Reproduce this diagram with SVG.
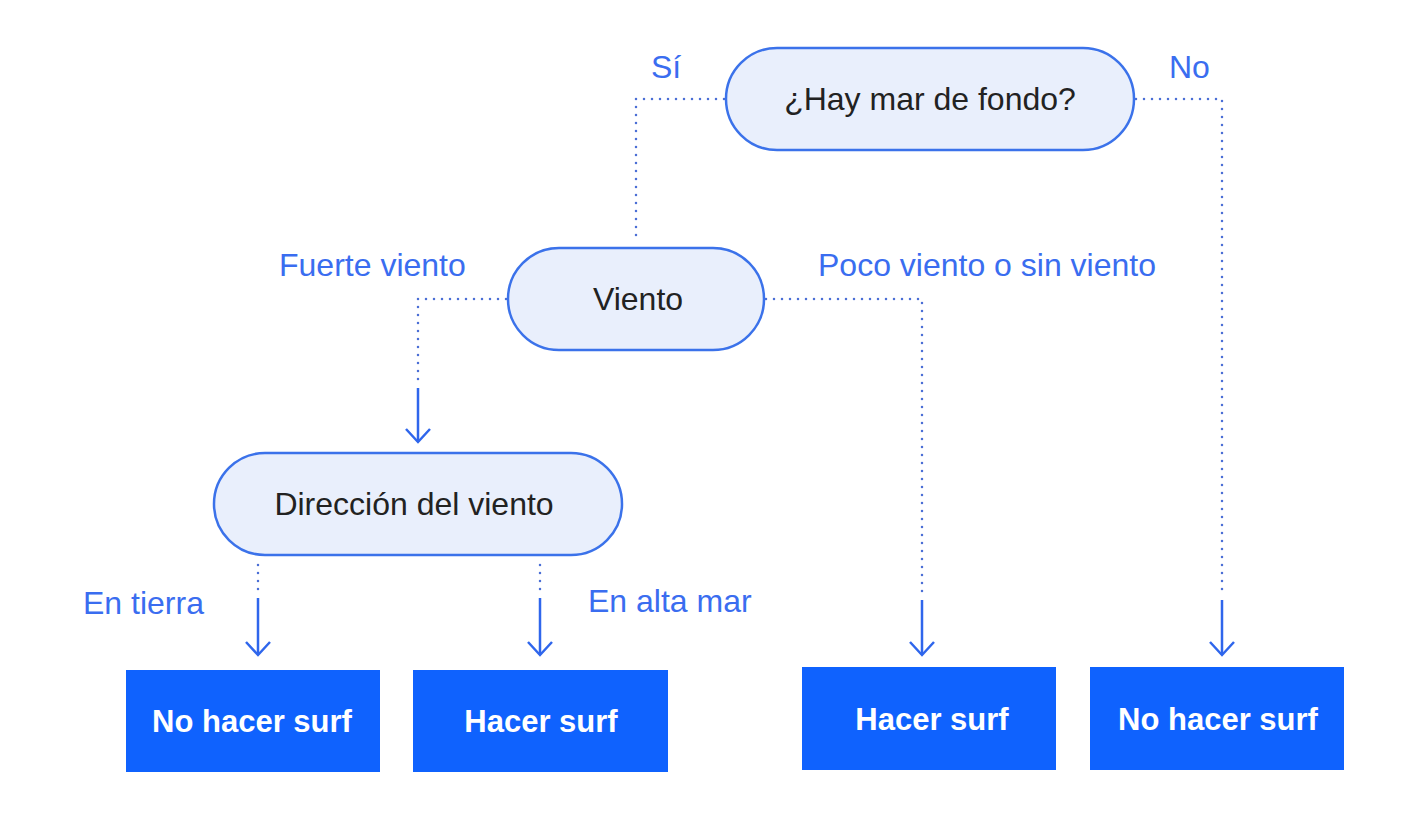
<svg xmlns="http://www.w3.org/2000/svg" width="1421" height="819" viewBox="0 0 1421 819">
<defs>
<style>
.pill{fill:#e9effc;stroke:#3b72ea;stroke-width:2.5}
.box{fill:#0f62fe}
.ntext{font-family:"Liberation Sans",Arial,sans-serif;font-size:32px;fill:#222;text-anchor:middle}
.btext{font-family:"Liberation Sans",Arial,sans-serif;font-size:31px;font-weight:bold;fill:#fff;text-anchor:middle}
.lbl{font-family:"Liberation Sans",Arial,sans-serif;font-size:32px;fill:#3a6df0}
.dot{fill:none;stroke:#4b6fd6;stroke-width:2.5;stroke-linecap:round;stroke-dasharray:0 8}
.sol{fill:none;stroke:#2f66ec;stroke-width:2.5}
.head{fill:none;stroke:#2f66ec;stroke-width:2.5;stroke-linejoin:miter}
</style>
</defs>
<rect width="1421" height="819" fill="#fff"/>
<g id="connectors">
<path class="dot" d="M724 99 H636 V242"/>
<path class="dot" d="M1136 99 H1222 V592"/>
<path class="sol" d="M1222 600 V655"/>
<path class="head" d="M1210 642 L1222 655 L1234 642"/>
<path class="dot" d="M506 299 H418 V380"/>
<path class="sol" d="M418 388 V442"/>
<path class="head" d="M406 429 L418 442 L430 429"/>
<path class="dot" d="M766 299 H922 V592"/>
<path class="sol" d="M922 600 V655"/>
<path class="head" d="M910 642 L922 655 L934 642"/>
<path class="dot" d="M258 565 V590"/>
<path class="sol" d="M258 598 V655"/>
<path class="head" d="M246 642 L258 655 L270 642"/>
<path class="dot" d="M540 565 V590"/>
<path class="sol" d="M540 598 V655"/>
<path class="head" d="M528 642 L540 655 L552 642"/>
</g>
<g id="labels">
<text class="lbl" x="651" y="78">Sí</text>
<text class="lbl" x="1169" y="78">No</text>
<text class="lbl" x="279" y="276">Fuerte viento</text>
<text class="lbl" x="818" y="276">Poco viento o sin viento</text>
<text class="lbl" x="83" y="614">En tierra</text>
<text class="lbl" x="588" y="612">En alta mar</text>
</g>
<g id="n1">
<rect class="pill" x="726" y="48" width="408" height="102" rx="51"/>
<text class="ntext" x="930" y="110">¿Hay mar de fondo?</text>
</g>
<g id="n2">
<rect class="pill" x="508" y="248" width="256" height="102" rx="51"/>
<text class="ntext" x="638" y="310">Viento</text>
</g>
<g id="n3">
<rect class="pill" x="214" y="453" width="408" height="102" rx="51"/>
<text class="ntext" x="414" y="515">Dirección del viento</text>
</g>
<g id="r1">
<rect class="box" x="126" y="670" width="254" height="102"/>
<text class="btext" x="252" y="732">No hacer surf</text>
</g>
<g id="r2">
<rect class="box" x="413" y="670" width="255" height="102"/>
<text class="btext" x="541" y="732">Hacer surf</text>
</g>
<g id="r3">
<rect class="box" x="802" y="667" width="254" height="103"/>
<text class="btext" x="932" y="730">Hacer surf</text>
</g>
<g id="r4">
<rect class="box" x="1090" y="667" width="254" height="103"/>
<text class="btext" x="1218" y="730">No hacer surf</text>
</g>
</svg>
